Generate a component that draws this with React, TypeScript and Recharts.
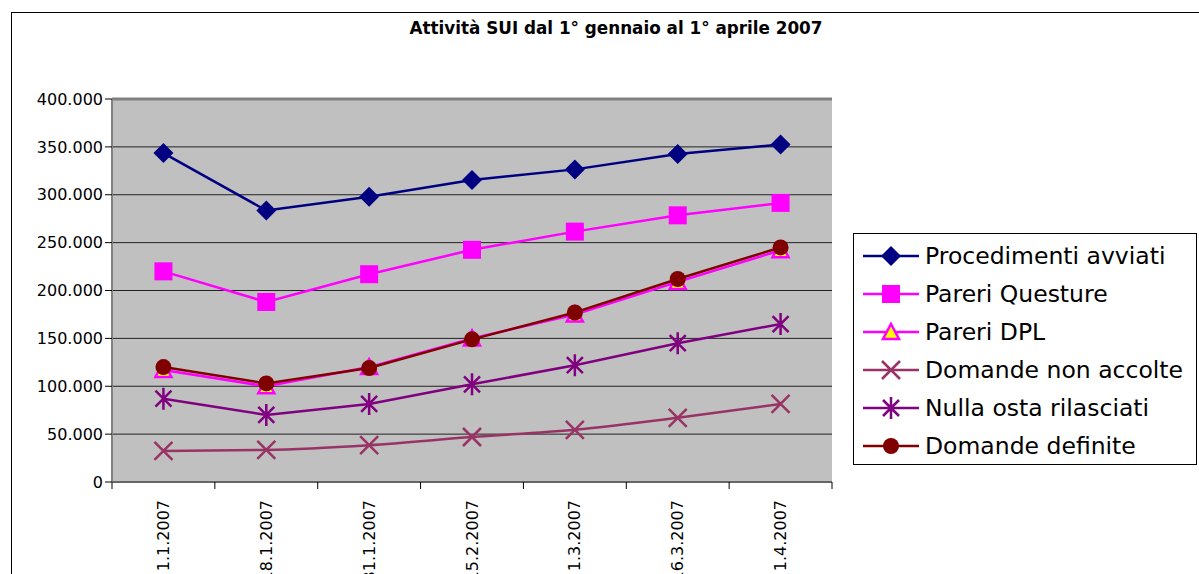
import { LineChart, Line, XAxis, YAxis, CartesianGrid, ReferenceLine } from "recharts"

const dates = ["1.1.2007", "18.1.2007", "31.1.2007", "15.2.2007", "1.3.2007", "16.3.2007", "1.4.2007"]
const procedimentiAvviati = [343500, 283500, 298000, 315500, 326500, 342500, 352500]
const pareriQuesture = [220000, 188000, 217000, 242500, 261500, 278500, 291500]
const pareriDPL = [117000, 100000, 120000, 150000, 175000, 209000, 242000]
const domandeNonAccolte = [32500, 33500, 38500, 47000, 54500, 67000, 81500]
const nullaOsta = [87000, 70000, 81500, 102000, 122000, 145000, 165000]
const domandeDefinite = [120000, 103000, 119000, 149000, 177000, 212000, 245000]
const yTicks = [0, 50000, 100000, 150000, 200000, 250000, 300000, 350000, 400000]

const data = dates.map((d, i) => ({
    date: d,
    proc: procedimentiAvviati[i],
    quest: pareriQuesture[i],
    dpl: pareriDPL[i],
    nonAcc: domandeNonAccolte[i],
    nulla: nullaOsta[i],
    def: domandeDefinite[i],
}))

const FONT = "'DejaVu Sans', Verdana, sans-serif"
const PLOT_W = 720
const STEP = PLOT_W / dates.length

// marker shapes, drawn around (cx, cy)
const marker = (kind: string, cx: number, cy: number, k?: string) => {
    switch (kind) {
        case "diamond":
            return <path key={k} d={`M${cx},${cy - 10}L${cx + 10},${cy}L${cx},${cy + 10}L${cx - 10},${cy}Z`} fill="#000080" />
        case "square":
            return <rect key={k} x={cx - 9} y={cy - 9} width={18} height={18} fill="#FF00FF" />
        case "triangle":
            return (
                <path key={k} d={`M${cx},${cy - 8}L${cx + 8},${cy + 7}L${cx - 8},${cy + 7}Z`}
                    fill="#FFFF00" stroke="#FF00FF" strokeWidth={2.5} />
            )
        case "cross":
            return (
                <path key={k} d={`M${cx - 9},${cy - 9}L${cx + 9},${cy + 9}M${cx - 9},${cy + 9}L${cx + 9},${cy - 9}`}
                    stroke="#993366" strokeWidth={2.5} fill="none" />
            )
        case "star":
            return (
                <path key={k}
                    d={`M${cx - 8},${cy - 8}L${cx + 8},${cy + 8}M${cx - 8},${cy + 8}L${cx + 8},${cy - 8}M${cx},${cy - 11}L${cx},${cy + 11}`}
                    stroke="#800080" strokeWidth={2.5} fill="none" />
            )
        default:
            return <circle key={k} cx={cx} cy={cy} r={8} fill="#800000" />
    }
}

const series = [
    { key: "proc", name: "Procedimenti avviati", color: "#000080", shape: "diamond", type: "linear" },
    { key: "quest", name: "Pareri Questure", color: "#FF00FF", shape: "square", type: "linear" },
    { key: "dpl", name: "Pareri DPL", color: "#FF00FF", shape: "triangle", type: "linear" },
    { key: "nonAcc", name: "Domande non accolte", color: "#993366", shape: "cross", type: "monotone" },
    { key: "nulla", name: "Nulla osta rilasciati", color: "#800080", shape: "star", type: "linear" },
    { key: "def", name: "Domande definite", color: "#800000", shape: "circle", type: "linear" },
]

const fmt = (v: number) => (v === 0 ? "0" : String(v).replace(/\B(?=(\d{3})+(?!\d))/g, "."))

const XTick = (props: any) => {
    const { x, y, payload, index } = props
    return (
        <g>
            <line x1={x - STEP / 2} y1={y - 8} x2={x - STEP / 2} y2={y - 1} stroke="#000" />
            {index === dates.length - 1 && (
                <line x1={x + STEP / 2} y1={y - 8} x2={x + STEP / 2} y2={y - 1} stroke="#000" />
            )}
            <text x={x} y={y + 10} transform={`rotate(-90 ${x} ${y + 10})`} textAnchor="end"
                dominantBaseline="central" fontSize={16} fill="#000" fontFamily={FONT}>
                {payload.value}
            </text>
        </g>
    )
}

const LegendBox = () => (
    <div style={{
        position: "absolute", left: 853, top: 233, width: 344, height: 232,
        border: "1px solid #000", background: "#fff", boxSizing: "border-box",
        paddingTop: 3, fontFamily: FONT,
    }}>
        {series.map((s) => (
            <div key={s.key} style={{ display: "flex", alignItems: "center", height: 38 }}>
                <svg width={62} height={30} style={{ marginLeft: 7, flexShrink: 0 }}>
                    <line x1={2} y1={15} x2={58} y2={15} stroke={s.color} strokeWidth={2.5} />
                    {marker(s.shape, 30, 15)}
                </svg>
                <span style={{ fontSize: 23.5, color: "#000", whiteSpace: "nowrap", marginLeft: 2 }}>{s.name}</span>
            </div>
        ))}
    </div>
)

export default function App() {
    return (
        <div style={{ position: "absolute", left: 0, top: 0, width: 1199, height: 574, background: "#fff", overflow: "hidden" }}>
            <div style={{ position: "absolute", left: 11, top: 12, width: 1300, height: 700, border: "1px solid #000" }} />
            <div style={{
                position: "absolute", left: 0, width: 1232, top: 18, textAlign: "center",
                fontFamily: FONT, fontWeight: "bold", fontSize: 16.8,
            }}>
                Attività SUI dal 1° gennaio al 1° aprile 2007
            </div>
            <div style={{ position: "absolute", left: 0, top: 0 }}>
                <LineChart width={1199} height={574} data={data}
                    margin={{ top: 99, right: 367, left: 0, bottom: 12 }}>
                    <CartesianGrid vertical={false} fill="#C0C0C0" stroke="#222" strokeWidth={1} />
                    <XAxis dataKey="date" height={80} tick={<XTick />} tickLine={false}
                        padding={{ left: STEP / 2, right: STEP / 2 }}
                        axisLine={{ stroke: "#666", strokeWidth: 2 }} interval={0} />
                    <YAxis width={112} domain={[0, 400000]} ticks={yTicks} tickFormatter={fmt}
                        axisLine={{ stroke: "#808080", strokeWidth: 2 }} tickLine={{ stroke: "#000" }} tickSize={7}
                        tick={{ fontSize: 16, fill: "#000", fontFamily: FONT }} interval={0} />
                    <ReferenceLine y={400000} stroke="#808080" strokeWidth={3} />
                    {series.map((s) => (
                        <Line key={s.key} dataKey={s.key} name={s.name} type={s.type as any}
                            stroke={s.color} strokeWidth={2.5} isAnimationActive={false}
                            dot={(p: any) => marker(s.shape, p.cx, p.cy, `${s.key}-${p.index}`)}
                            activeDot={false} />
                    ))}
                </LineChart>
            </div>
            <LegendBox />
        </div>
    )
}
